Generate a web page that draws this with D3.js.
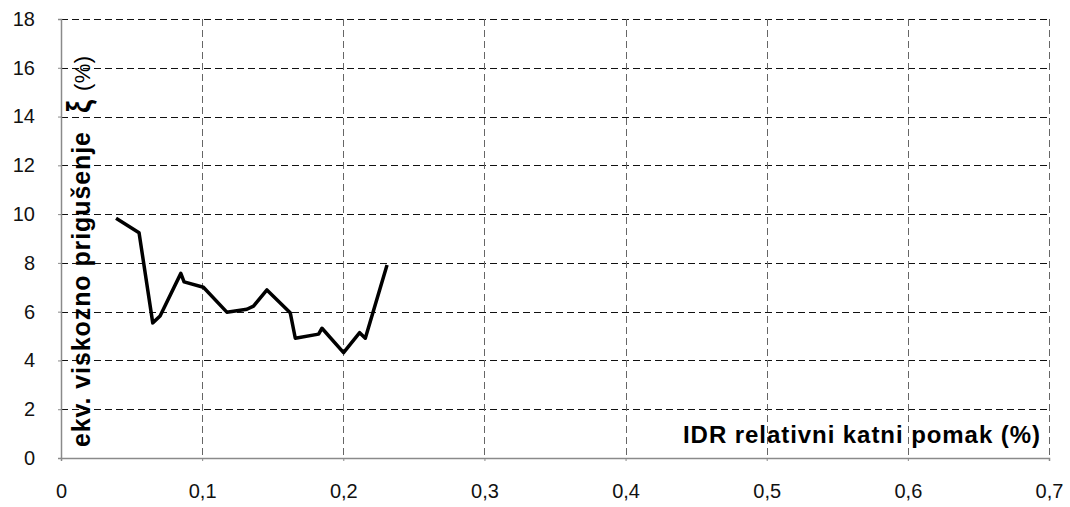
<!DOCTYPE html>
<html>
<head>
<meta charset="utf-8">
<script src="https://cdn.jsdelivr.net/npm/d3@7"></script>
<style>
  body { margin: 0; background: #fff; }
  svg { display: block; font-family: "Liberation Sans", Arial, sans-serif; }
</style>
</head>
<body>
<svg id="chart" width="1070" height="507"></svg>
<script>
// IDR (%) vs equivalent viscous damping (%)
const idr = [0.039, 0.0553, 0.065, 0.0702, 0.0849, 0.0872, 0.1009, 0.1175, 0.1317, 0.1364,
  0.1459, 0.1624, 0.166, 0.1825, 0.1849, 0.2002, 0.2116, 0.2156, 0.231];
const damping = [9.83, 9.24, 5.54, 5.82, 7.57, 7.22, 7.0, 5.98, 6.10, 6.23,
  6.89, 5.96, 4.91, 5.08, 5.32, 4.32, 5.14, 4.91, 7.91];
const xTicks = [0, 0.1, 0.2, 0.3, 0.4, 0.5, 0.6, 0.7];
const yTicks = [0, 2, 4, 6, 8, 10, 12, 14, 16, 18];

const svg = d3.select("#chart");
const width = +svg.attr("width");
const height = +svg.attr("height");
const margin = { top: 19, right: 21, bottom: 49, left: 61 };
const innerWidth = width - margin.left - margin.right;
const innerHeight = height - margin.top - margin.bottom;

const g = svg.append("g")
  .attr("transform", `translate(${margin.left}, ${margin.top})`);

const x = d3.scaleLinear().domain([0, 0.7]).range([0, innerWidth]);
const y = d3.scaleLinear().domain([0, 18]).range([innerHeight, 0]);

// Grid lines
g.append("g")
  .selectAll("line")
  .data(yTicks.filter(d => d > 0))
  .join("line")
  .attr("x1", 0)
  .attr("x2", innerWidth)
  .attr("y1", d => Math.round(y(d)) + 0.5)
  .attr("y2", d => Math.round(y(d)) + 0.5)
  .attr("stroke", "#111")
  .attr("stroke-dasharray", "7,4");

g.append("g")
  .selectAll("line")
  .data(xTicks.filter(d => d > 0))
  .join("line")
  .attr("x1", d => Math.round(x(d)) + 0.5)
  .attr("x2", d => Math.round(x(d)) + 0.5)
  .attr("y1", 0)
  .attr("y2", innerHeight)
  .attr("stroke", "#666")
  .attr("stroke-dasharray", "7,4");

// Axes
const xAxis = g.append("g")
  .attr("transform", `translate(0, ${innerHeight})`)
  .call(d3.axisBottom(x).tickValues(xTicks).tickSize(3)
    .tickFormat(d => d3.format(".1f")(d).replace(".", ",").replace(/^0,0$/, "0")));

const yAxis = g.append("g")
  .call(d3.axisLeft(y).tickValues(yTicks).tickSize(3).tickFormat(d3.format("d")));

[xAxis, yAxis].forEach(a => {
  a.select(".domain").attr("stroke", "#8a8a8a").attr("stroke-width", 1.5);
  a.selectAll(".tick line").attr("stroke", "#8a8a8a");
  a.selectAll(".tick text")
    .attr("fill", "#111")
    .attr("font-size", "20px")
    .attr("font-family", "Liberation Sans, Arial, sans-serif");
});
xAxis.selectAll(".tick text").attr("dy", "0.71em").attr("y", 26);
yAxis.selectAll(".tick text").attr("x", -26);

// Data line
const line = d3.line()
  .x((d, i) => x(idr[i]))
  .y(d => y(d));

g.append("path")
  .datum(damping)
  .attr("fill", "none")
  .attr("stroke", "#000")
  .attr("stroke-width", 3.5)
  .attr("stroke-linejoin", "round")
  .attr("d", line);

// Fit a text to a length: widen spacing if short, squeeze glyphs if long
function fit(sel, len) {
  const natural = sel.node().getComputedTextLength();
  sel.attr("textLength", len)
    .attr("lengthAdjust", natural < len ? "spacing" : "spacingAndGlyphs");
}

// Axis titles
svg.append("text")
  .attr("x", 1040)
  .attr("y", 443)
  .attr("text-anchor", "end")
  .attr("font-size", "24px")
  .attr("font-weight", "bold")
  .text("IDR relativni katni pomak (%)")
  .call(fit, 357);

const narrow = "'Liberation Sans Narrow', 'Arial Narrow', 'Liberation Sans', sans-serif";
const yTitle = svg.append("g")
  .attr("transform", "translate(90, 0) rotate(-90)");

yTitle.append("text")
  .attr("x", -447)
  .attr("y", 0)
  .attr("font-family", narrow)
  .attr("font-size", "25px")
  .attr("font-weight", "bold")
  .text("ekv. viskozno prigušenje")
  .call(fit, 315);

yTitle.append("text")
  .attr("x", -113)
  .attr("y", 0)
  .attr("font-size", "34px")
  .attr("font-weight", "bold")
  .text("ξ")
  .call(fit, 13);

yTitle.append("text")
  .attr("x", -91)
  .attr("y", 0)
  .attr("font-family", narrow)
  .attr("font-size", "22px")
  .text("(%)")
  .call(fit, 35);
</script>
</body>
</html>
